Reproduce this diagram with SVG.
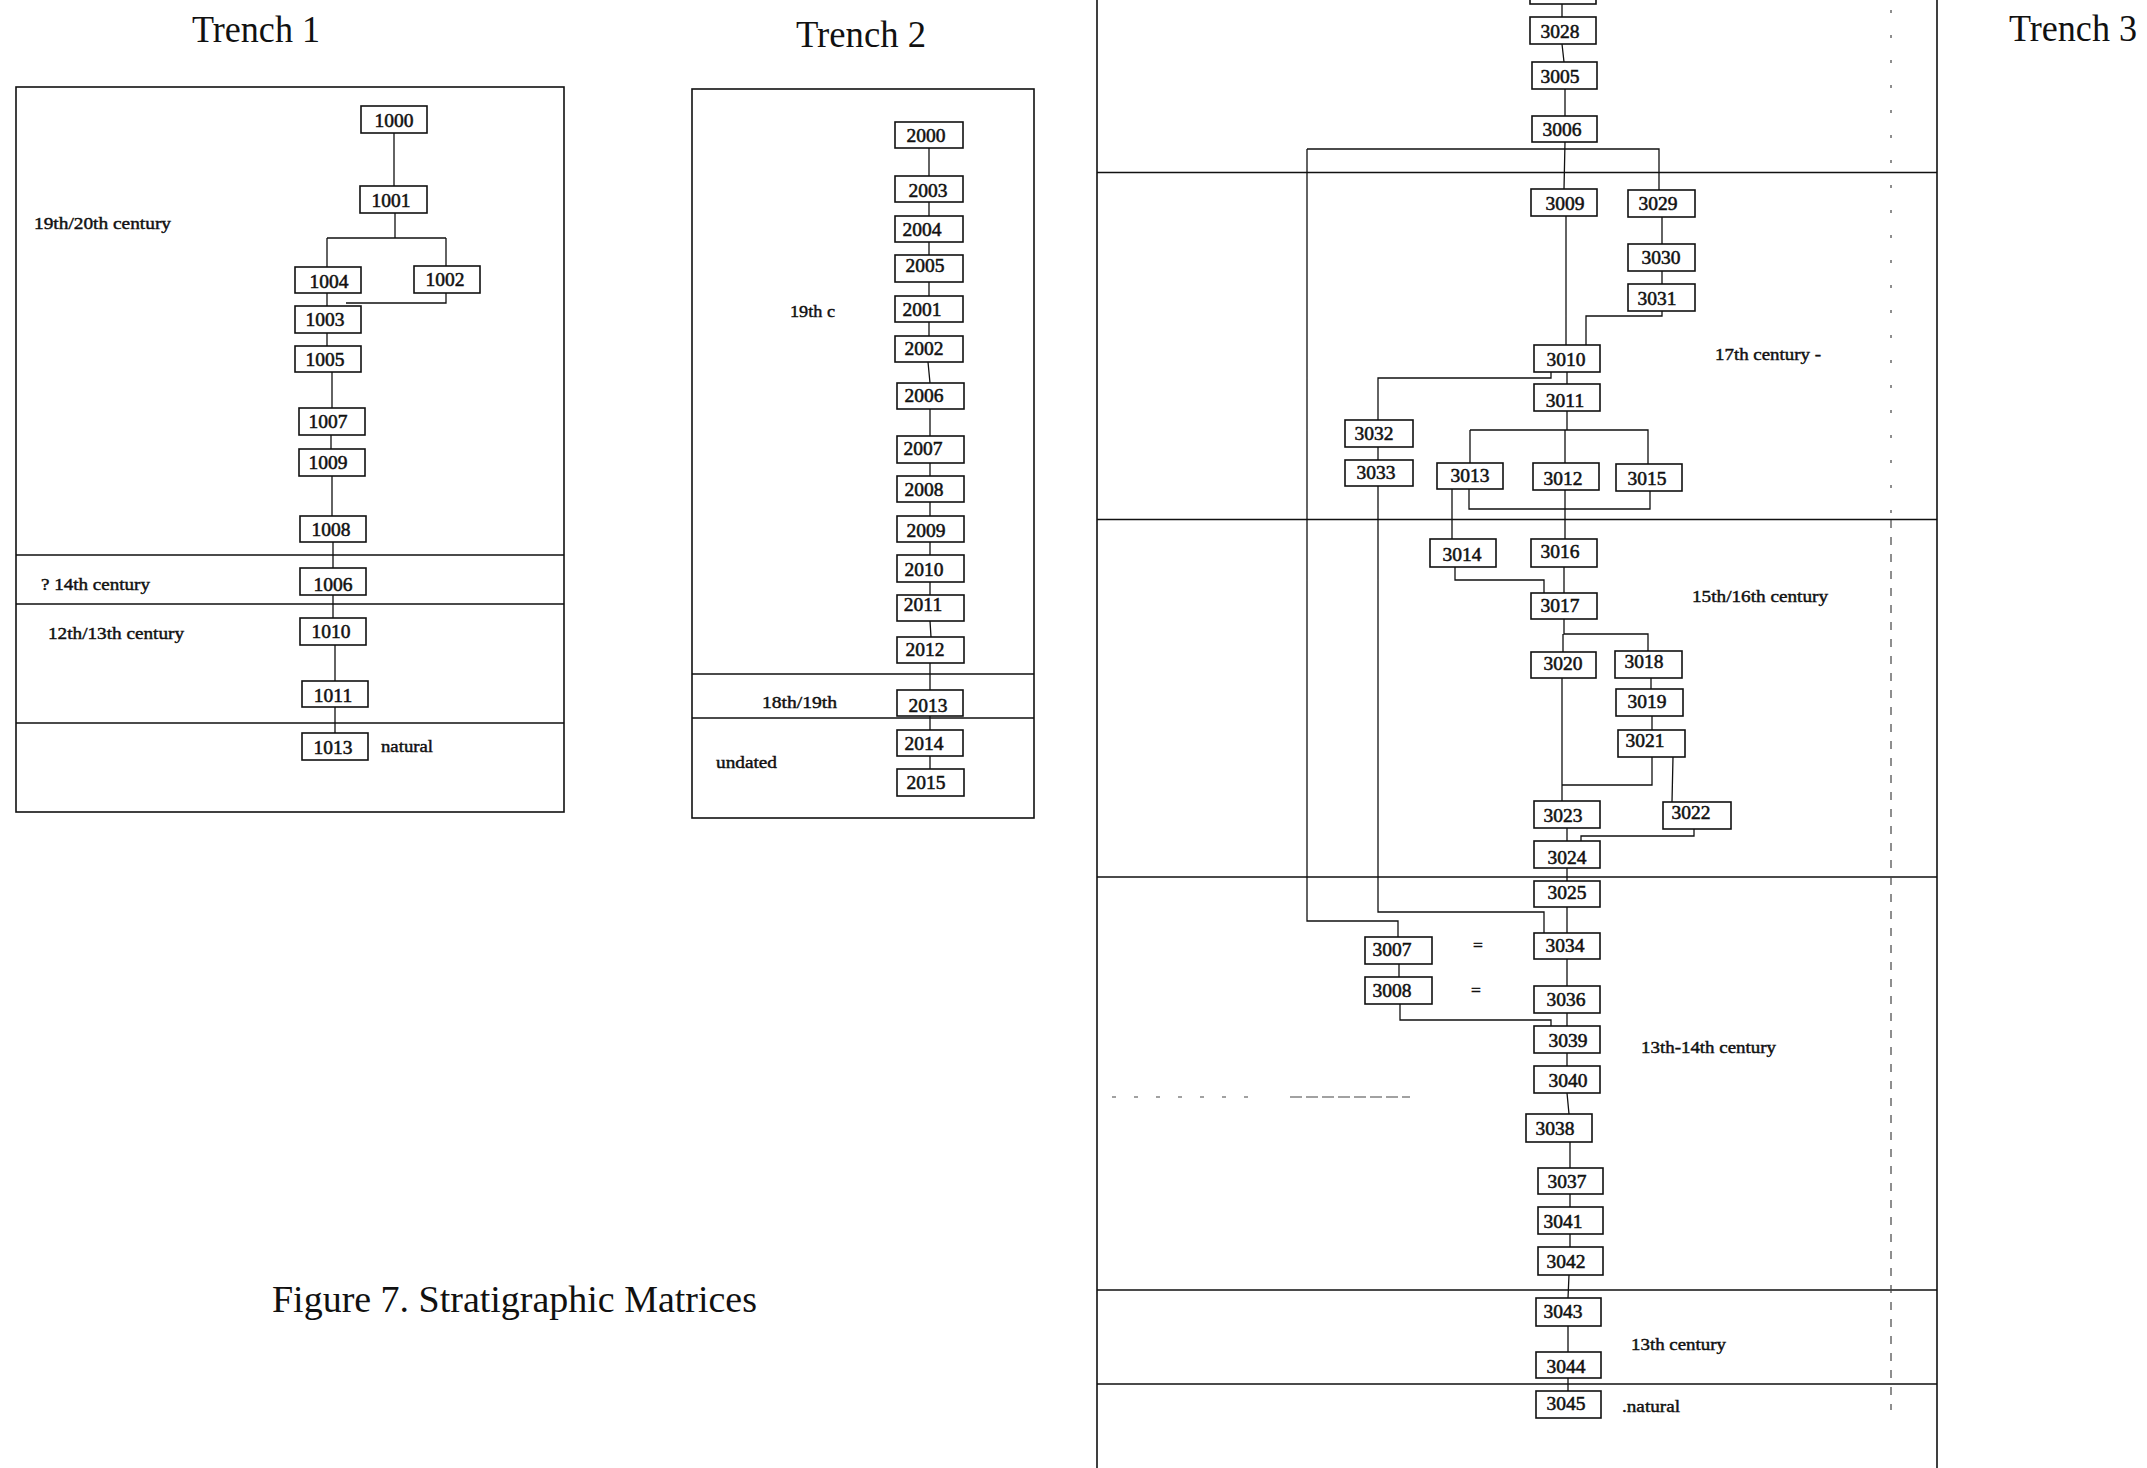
<svg xmlns="http://www.w3.org/2000/svg" width="2147" height="1468" viewBox="0 0 2147 1468">
<style>
.bg{fill:#fff}
.box{fill:#fff;stroke:#111;stroke-width:1.6}
.num{font-family:"Liberation Serif",serif;font-size:19.5px;text-anchor:middle;fill:#111;stroke:#111;stroke-width:0.55}
.conn{fill:none;stroke:#111;stroke-width:1.3}
.frame{fill:none;stroke:#111;stroke-width:1.6}
.band{fill:none;stroke:#111;stroke-width:1.6}
.per{font-family:"Liberation Serif",serif;font-size:17.5px;fill:#111;stroke:#111;stroke-width:0.45}
.title{font-family:"Liberation Serif",serif;font-size:38px;fill:#111}
.noise{fill:none;stroke:#444;stroke-width:1.2}
</style>
<rect class="bg" x="0" y="0" width="2147" height="1468"/>

<!-- Titles -->
<g id="titles">
<text class="title" x="192" y="42" textLength="128" lengthAdjust="spacingAndGlyphs">Trench 1</text>
<text class="title" x="796" y="47" textLength="130" lengthAdjust="spacingAndGlyphs">Trench 2</text>
<text class="title" x="2009" y="41" textLength="128" lengthAdjust="spacingAndGlyphs">Trench 3</text>
<text class="title" x="272" y="1312" font-size="36" textLength="485" lengthAdjust="spacingAndGlyphs">Figure 7.  Stratigraphic Matrices</text>
</g>

<!-- Frames and period bands -->
<g id="frames">
<rect class="frame" x="16" y="87" width="548" height="725"/>
<path class="band" d="M16,555 H564 M16,604 H564 M16,723 H564"/>
<rect class="frame" x="692" y="89" width="342" height="729"/>
<path class="band" d="M692,674 H1034 M692,718 H1034"/>
<path class="frame" d="M1097,0 V1468 M1937,0 V1468"/>
<path class="band" d="M1097,172.5 H1937 M1097,519.5 H1937 M1097,877 H1937 M1097,1290 H1937 M1097,1384 H1937"/>
</g>

<!-- Period labels -->
<g id="periods">
<text class="per" x="34" y="229" textLength="137" lengthAdjust="spacingAndGlyphs">19th/20th century</text>
<text class="per" x="41" y="590" textLength="109" lengthAdjust="spacingAndGlyphs">? 14th century</text>
<text class="per" x="48" y="639" textLength="136" lengthAdjust="spacingAndGlyphs">12th/13th century</text>
<text class="per" x="381" y="752" textLength="52" lengthAdjust="spacingAndGlyphs">natural</text>
<text class="per" x="790" y="317" textLength="45" lengthAdjust="spacingAndGlyphs">19th c</text>
<text class="per" x="762" y="708" textLength="75" lengthAdjust="spacingAndGlyphs">18th/19th</text>
<text class="per" x="716" y="768" textLength="61" lengthAdjust="spacingAndGlyphs">undated</text>
<text class="per" x="1715" y="360" textLength="106" lengthAdjust="spacingAndGlyphs">17th century -</text>
<text class="per" x="1692" y="602" textLength="136" lengthAdjust="spacingAndGlyphs">15th/16th century</text>
<text class="per" x="1641" y="1053" textLength="135" lengthAdjust="spacingAndGlyphs">13th-14th century</text>
<text class="per" x="1631" y="1350" textLength="95" lengthAdjust="spacingAndGlyphs">13th century</text>
<text class="per" x="1622" y="1412" textLength="58" lengthAdjust="spacingAndGlyphs">.natural</text>
<text class="per" x="1478" y="951" font-size="20" text-anchor="middle">=</text>
<text class="per" x="1476" y="996" font-size="20" text-anchor="middle">=</text>
</g>

<!-- Scan marks -->
<g id="scanmarks">
<path class="noise" stroke-dasharray="3,22" d="M1891,10 V520"/>
<path class="noise" stroke-dasharray="8,9" d="M1891,520 V1410"/>
<path class="noise" stroke-dasharray="4,18" stroke-width="1" d="M1112,1097 H1250"/>
<path class="noise" stroke-dasharray="12,4" stroke-width="1" d="M1290,1097 H1410"/>
</g>

<!-- Connectors -->
<g id="connectors">
<path class="conn" d="M394,133 V186 M395,213 V238 M327,238 H446 M327,238 V267 M446,238 V266 M446,293 V303 H346 M327,293 V306 M327,333 V346 M332,372 V408 M331,435 V449 M332,476 V516 M333,542 V568 M333,595 V618 M335,645 V681 M335,707 V733"/>
<path class="conn" d="M929,148 V176 M929,202 V216 M929,242 V255 M929,282 V296 M929,322 V336 M928,362 L930,383 M930,409 V436 M930,463 V476 M930,502 V516 M930,542 V555 M930,582 V595 M930,621 L931,637 M930,663 V690 M930,716 V730 M930,756 V769"/>
<path class="conn" d="M1562,4 V17 M1562,44 L1564,62 M1565,89 V116 M1565,142 L1564,189 M1307,149 H1659 V190 M1307,149 V921 H1398 V937 M1662,217 V244 M1662,271 V284 M1662,311 V316 H1586 V345 M1566,216 V345 M1567,372 V384 M1551,372 V378 H1378 V420 M1378,447 V460 M1378,486 V912 H1544 V933 M1567,411 V430 M1470,430 H1648 V464 M1470,430 V463 M1565,430 V463 M1469,489 V509 H1650 V491 M1452,489 V539 M1565,490 V539 M1455,567 V580 H1544 V593 M1564,567 V593 M1564,619 V634 H1648 V651 M1563,634 V652 M1651,678 V689 M1652,716 V730 M1652,757 V785 H1562 M1562,678 V801 M1673,757 L1672,802 M1694,829 V836 H1581 V841 M1567,828 V841 M1567,868 V881 M1567,907 V933 M1567,959 V986 M1399,964 V977 M1400,1004 V1020 H1551 V1026 M1567,1013 V1026 M1567,1053 V1066 M1567,1093 L1569,1114 M1570,1142 V1168 M1570,1194 V1207 M1570,1234 V1247 M1569,1275 L1568,1298 M1568,1326 V1352 M1568,1378 V1391"/>
</g>

<!-- Trench 1 nodes -->
<g id="n1000"><rect class="box" x="361" y="106" width="66" height="27"/><text class="num" x="394" y="127">1000</text></g>
<g id="n1001"><rect class="box" x="360" y="186" width="67" height="27"/><text class="num" x="391" y="207">1001</text></g>
<g id="n1004"><rect class="box" x="295" y="267" width="66" height="26"/><text class="num" x="329" y="288">1004</text></g>
<g id="n1002"><rect class="box" x="414" y="266" width="66" height="27"/><text class="num" x="445" y="286">1002</text></g>
<g id="n1003"><rect class="box" x="295" y="306" width="66" height="27"/><text class="num" x="325" y="326">1003</text></g>
<g id="n1005"><rect class="box" x="295" y="346" width="66" height="26"/><text class="num" x="325" y="366">1005</text></g>
<g id="n1007"><rect class="box" x="299" y="408" width="66" height="27"/><text class="num" x="328" y="428">1007</text></g>
<g id="n1009"><rect class="box" x="299" y="449" width="66" height="27"/><text class="num" x="328" y="469">1009</text></g>
<g id="n1008"><rect class="box" x="300" y="516" width="66" height="26"/><text class="num" x="331" y="536">1008</text></g>
<g id="n1006"><rect class="box" x="300" y="568" width="66" height="27"/><text class="num" x="333" y="591">1006</text></g>
<g id="n1010"><rect class="box" x="300" y="618" width="66" height="27"/><text class="num" x="331" y="638">1010</text></g>
<g id="n1011"><rect class="box" x="302" y="681" width="66" height="26"/><text class="num" x="333" y="702">1011</text></g>
<g id="n1013"><rect class="box" x="302" y="733" width="66" height="27"/><text class="num" x="333" y="754">1013</text></g>

<!-- Trench 2 nodes -->
<g id="n2000"><rect class="box" x="895" y="122" width="68" height="26"/><text class="num" x="926" y="142">2000</text></g>
<g id="n2003"><rect class="box" x="895" y="176" width="68" height="26"/><text class="num" x="928" y="197">2003</text></g>
<g id="n2004"><rect class="box" x="895" y="216" width="68" height="26"/><text class="num" x="922" y="236">2004</text></g>
<g id="n2005"><rect class="box" x="895" y="255" width="68" height="27"/><text class="num" x="925" y="272">2005</text></g>
<g id="n2001"><rect class="box" x="895" y="296" width="68" height="26"/><text class="num" x="922" y="316">2001</text></g>
<g id="n2002"><rect class="box" x="895" y="336" width="68" height="26"/><text class="num" x="924" y="355">2002</text></g>
<g id="n2006"><rect class="box" x="897" y="383" width="67" height="26"/><text class="num" x="924" y="402">2006</text></g>
<g id="n2007"><rect class="box" x="897" y="436" width="67" height="27"/><text class="num" x="923" y="455">2007</text></g>
<g id="n2008"><rect class="box" x="897" y="476" width="67" height="26"/><text class="num" x="924" y="496">2008</text></g>
<g id="n2009"><rect class="box" x="897" y="516" width="67" height="26"/><text class="num" x="926" y="537">2009</text></g>
<g id="n2010"><rect class="box" x="897" y="555" width="67" height="27"/><text class="num" x="924" y="576">2010</text></g>
<g id="n2011"><rect class="box" x="897" y="595" width="67" height="26"/><text class="num" x="923" y="611">2011</text></g>
<g id="n2012"><rect class="box" x="897" y="637" width="67" height="26"/><text class="num" x="925" y="656">2012</text></g>
<g id="n2013"><rect class="box" x="897" y="690" width="66" height="26"/><text class="num" x="928" y="712">2013</text></g>
<g id="n2014"><rect class="box" x="897" y="730" width="66" height="26"/><text class="num" x="924" y="750">2014</text></g>
<g id="n2015"><rect class="box" x="897" y="769" width="67" height="27"/><text class="num" x="926" y="789">2015</text></g>

<!-- Trench 3 nodes -->
<g id="n30xx-top"><rect class="box" x="1530" y="-22" width="66" height="26"/></g>
<g id="n3028"><rect class="box" x="1530" y="17" width="66" height="27"/><text class="num" x="1560" y="38">3028</text></g>
<g id="n3005"><rect class="box" x="1532" y="62" width="65" height="27"/><text class="num" x="1560" y="83">3005</text></g>
<g id="n3006"><rect class="box" x="1532" y="116" width="65" height="26"/><text class="num" x="1562" y="136">3006</text></g>
<g id="n3009"><rect class="box" x="1531" y="189" width="66" height="27"/><text class="num" x="1565" y="210">3009</text></g>
<g id="n3029"><rect class="box" x="1628" y="190" width="67" height="27"/><text class="num" x="1658" y="210">3029</text></g>
<g id="n3030"><rect class="box" x="1628" y="244" width="67" height="27"/><text class="num" x="1661" y="264">3030</text></g>
<g id="n3031"><rect class="box" x="1628" y="284" width="67" height="27"/><text class="num" x="1657" y="305">3031</text></g>
<g id="n3010"><rect class="box" x="1534" y="345" width="66" height="27"/><text class="num" x="1566" y="366">3010</text></g>
<g id="n3011"><rect class="box" x="1534" y="384" width="66" height="27"/><text class="num" x="1565" y="407">3011</text></g>
<g id="n3032"><rect class="box" x="1345" y="420" width="68" height="27"/><text class="num" x="1374" y="440">3032</text></g>
<g id="n3033"><rect class="box" x="1345" y="460" width="68" height="26"/><text class="num" x="1376" y="479">3033</text></g>
<g id="n3013"><rect class="box" x="1437" y="463" width="66" height="26"/><text class="num" x="1470" y="482">3013</text></g>
<g id="n3012"><rect class="box" x="1533" y="463" width="66" height="27"/><text class="num" x="1563" y="485">3012</text></g>
<g id="n3015"><rect class="box" x="1616" y="464" width="66" height="27"/><text class="num" x="1647" y="485">3015</text></g>
<g id="n3014"><rect class="box" x="1430" y="539" width="66" height="28"/><text class="num" x="1462" y="561">3014</text></g>
<g id="n3016"><rect class="box" x="1531" y="539" width="66" height="28"/><text class="num" x="1560" y="558">3016</text></g>
<g id="n3017"><rect class="box" x="1531" y="593" width="66" height="26"/><text class="num" x="1560" y="612">3017</text></g>
<g id="n3020"><rect class="box" x="1531" y="652" width="65" height="26"/><text class="num" x="1563" y="670">3020</text></g>
<g id="n3018"><rect class="box" x="1615" y="651" width="67" height="27"/><text class="num" x="1644" y="668">3018</text></g>
<g id="n3019"><rect class="box" x="1616" y="689" width="67" height="27"/><text class="num" x="1647" y="708">3019</text></g>
<g id="n3021"><rect class="box" x="1618" y="730" width="67" height="27"/><text class="num" x="1645" y="747">3021</text></g>
<g id="n3022"><rect class="box" x="1663" y="802" width="68" height="27"/><text class="num" x="1691" y="819">3022</text></g>
<g id="n3023"><rect class="box" x="1534" y="801" width="66" height="27"/><text class="num" x="1563" y="822">3023</text></g>
<g id="n3024"><rect class="box" x="1534" y="841" width="66" height="27"/><text class="num" x="1567" y="864">3024</text></g>
<g id="n3025"><rect class="box" x="1534" y="881" width="66" height="26"/><text class="num" x="1567" y="899">3025</text></g>
<g id="n3034"><rect class="box" x="1534" y="933" width="66" height="26"/><text class="num" x="1565" y="952">3034</text></g>
<g id="n3007"><rect class="box" x="1365" y="937" width="67" height="27"/><text class="num" x="1392" y="956">3007</text></g>
<g id="n3008"><rect class="box" x="1365" y="977" width="67" height="27"/><text class="num" x="1392" y="997">3008</text></g>
<g id="n3036"><rect class="box" x="1534" y="986" width="66" height="27"/><text class="num" x="1566" y="1006">3036</text></g>
<g id="n3039"><rect class="box" x="1534" y="1026" width="66" height="27"/><text class="num" x="1568" y="1047">3039</text></g>
<g id="n3040"><rect class="box" x="1534" y="1066" width="66" height="27"/><text class="num" x="1568" y="1087">3040</text></g>
<g id="n3038"><rect class="box" x="1526" y="1114" width="66" height="28"/><text class="num" x="1555" y="1135">3038</text></g>
<g id="n3037"><rect class="box" x="1538" y="1168" width="65" height="26"/><text class="num" x="1567" y="1188">3037</text></g>
<g id="n3041"><rect class="box" x="1538" y="1207" width="65" height="27"/><text class="num" x="1563" y="1228">3041</text></g>
<g id="n3042"><rect class="box" x="1538" y="1247" width="65" height="28"/><text class="num" x="1566" y="1268">3042</text></g>
<g id="n3043"><rect class="box" x="1536" y="1298" width="65" height="28"/><text class="num" x="1563" y="1318">3043</text></g>
<g id="n3044"><rect class="box" x="1536" y="1352" width="65" height="26"/><text class="num" x="1566" y="1373">3044</text></g>
<g id="n3045"><rect class="box" x="1536" y="1391" width="65" height="27"/><text class="num" x="1566" y="1410">3045</text></g>
</svg>
